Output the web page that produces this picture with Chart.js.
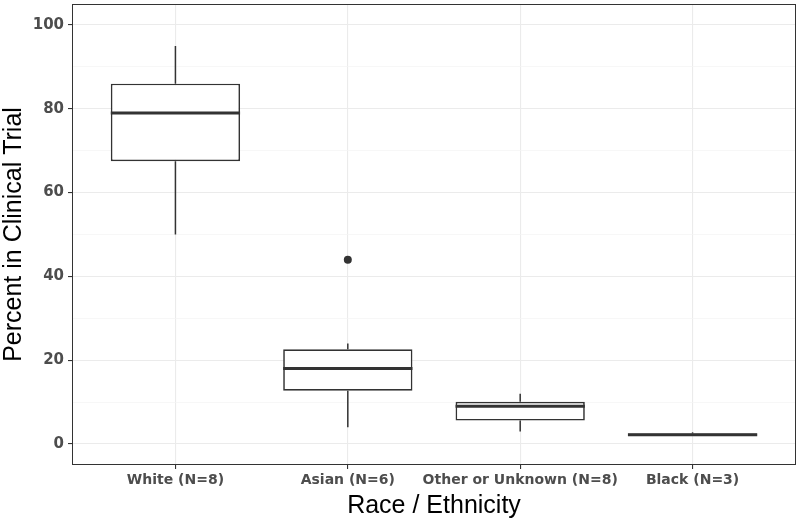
<!DOCTYPE html>
<html>
<head>
<meta charset="utf-8">
<script src="https://cdn.jsdelivr.net/npm/chart.js@4/dist/chart.umd.min.js"></script>
<style>
  html, body { margin: 0; padding: 0; background: #ffffff; }
  #wrap { width: 800px; height: 523px; }
</style>
</head>
<body>
<div id="wrap"><canvas id="box-chart" width="800" height="523"></canvas></div>
<script>
// 데이터
const categories = ['White (N=8)', 'Asian (N=6)', 'Other or Unknown (N=8)', 'Black (N=3)'];
const whiskerLow = [50, 4, 3, 2.0];
const q1 = [67.5, 12.7, 5.6, 2.0];
const median = [79, 18, 9, 2.2];
const q3 = [86, 22.6, 10.1, 2.5];
const whiskerHigh = [95, 24, 12, 2.8];
const outlierCategory = [2];
const outlierValue = [44];
const yTicks = [0, 20, 40, 60, 80, 100];
const yMinor = [10, 30, 50, 70, 90];

const INK = '#333333';
const GRID = '#ebebeb';

// 수염, 중앙값, 패널 테두리 그리기
const boxExtras = {
    id: 'boxExtras',
    afterDatasetsDraw(chart) {
        const { ctx, scales: { x, y } } = chart;
        const bars = chart.getDatasetMeta(0).data;
        ctx.save();
        ctx.strokeStyle = INK;
        ctx.lineCap = 'butt';
        categories.forEach((c, i) => {
            const cx = x.getPixelForValue(i + 1);
            ctx.lineWidth = 1.5;
            ctx.beginPath();
            ctx.moveTo(cx, y.getPixelForValue(q3[i]));
            ctx.lineTo(cx, y.getPixelForValue(whiskerHigh[i]));
            ctx.moveTo(cx, y.getPixelForValue(q1[i]));
            ctx.lineTo(cx, y.getPixelForValue(whiskerLow[i]));
            ctx.stroke();

            const half = bars[i].width / 2;
            const my = y.getPixelForValue(median[i]);
            ctx.lineWidth = 3;
            ctx.beginPath();
            ctx.moveTo(cx - half, my);
            ctx.lineTo(cx + half, my);
            ctx.stroke();
        });
        // 패널 테두리
        const a = chart.chartArea;
        ctx.lineWidth = 1;
        ctx.strokeStyle = INK;
        ctx.strokeRect(Math.round(a.left) + 0.5, Math.round(a.top) + 0.5,
            Math.round(a.right - a.left) - 1, Math.round(a.bottom - a.top) - 1);
        ctx.restore();
    }
};

const chart = new Chart(document.getElementById('box-chart'), {
    type: 'bar',
    data: {
        datasets: [{
            label: 'box',
            data: categories.map((c, i) => ({ x: i + 1, y: [q1[i], q3[i]] })),
            backgroundColor: '#ffffff',
            borderColor: INK,
            borderWidth: 1.7,
            borderSkipped: false,
            barPercentage: 0.75,
            categoryPercentage: 1,
            grouped: false
        }, {
            type: 'scatter',
            label: 'outlier',
            data: outlierCategory.map((c, i) => ({ x: c, y: outlierValue[i] })),
            backgroundColor: INK,
            borderWidth: 0,
            pointRadius: 4
        }]
    },
    options: {
        responsive: false,
        animation: false,
        layout: { padding: { top: 3, right: 3, left: 0, bottom: 0 } },
        plugins: {
            legend: { display: false },
            tooltip: { enabled: false }
        },
        scales: {
            x: {
                type: 'linear',
                min: 0.4,
                max: 4.6,
                offset: false,
                afterBuildTicks: (scale) => {
                    scale.ticks = categories.map((c, i) => ({ value: i + 1 }));
                },
                afterFit: (scale) => {
                    scale.height = 58;
                    scale.paddingLeft = 0;
                    scale.paddingRight = 0;
                },
                grid: {
                    offset: false,
                    color: GRID,
                    lineWidth: 1.1,
                    tickLength: 4,
                    tickColor: INK
                },
                border: { display: false },
                ticks: {
                    autoSkip: false,
                    maxRotation: 0,
                    padding: 3,
                    color: '#4d4d4d',
                    font: { family: 'DejaVu Sans', size: 14, weight: 'bold' },
                    callback: (v) => categories[v - 1] || ''
                },
                title: {
                    display: true,
                    text: 'Race / Ethnicity',
                    color: '#000000',
                    font: { family: 'Liberation Sans', size: 25 },
                    padding: { top: 0, bottom: 2 }
                }
            },
            y: {
                min: -5,
                max: 105,
                afterBuildTicks: (scale) => {
                    scale.ticks = [...yTicks, ...yMinor].sort((a, b) => a - b).map(v => ({ value: v }));
                },
                afterFit: (scale) => {
                    scale.width = 72;
                    scale.paddingTop = 0;
                    scale.paddingBottom = 0;
                },
                grid: {
                    color: (c) => yTicks.includes(c.tick.value) ? GRID : '#f3f3f3',
                    lineWidth: (c) => yTicks.includes(c.tick.value) ? 1.1 : 0.7,
                    tickLength: 4,
                    tickColor: (c) => yTicks.includes(c.tick.value) ? INK : 'rgba(0,0,0,0)'
                },
                border: { display: false },
                ticks: {
                    padding: 4,
                    color: '#4d4d4d',
                    font: { family: 'DejaVu Sans', size: 15, weight: 'bold' },
                    callback: (v) => yTicks.includes(v) ? String(v) : ''
                },
                title: {
                    display: true,
                    text: 'Percent in Clinical Trial',
                    color: '#000000',
                    font: { family: 'Liberation Sans', size: 25, lineHeight: 1.1 },
                    padding: { top: 0, bottom: 0 }
                }
            }
        }
    },
    plugins: [boxExtras]
});
</script>
</body>
</html>
